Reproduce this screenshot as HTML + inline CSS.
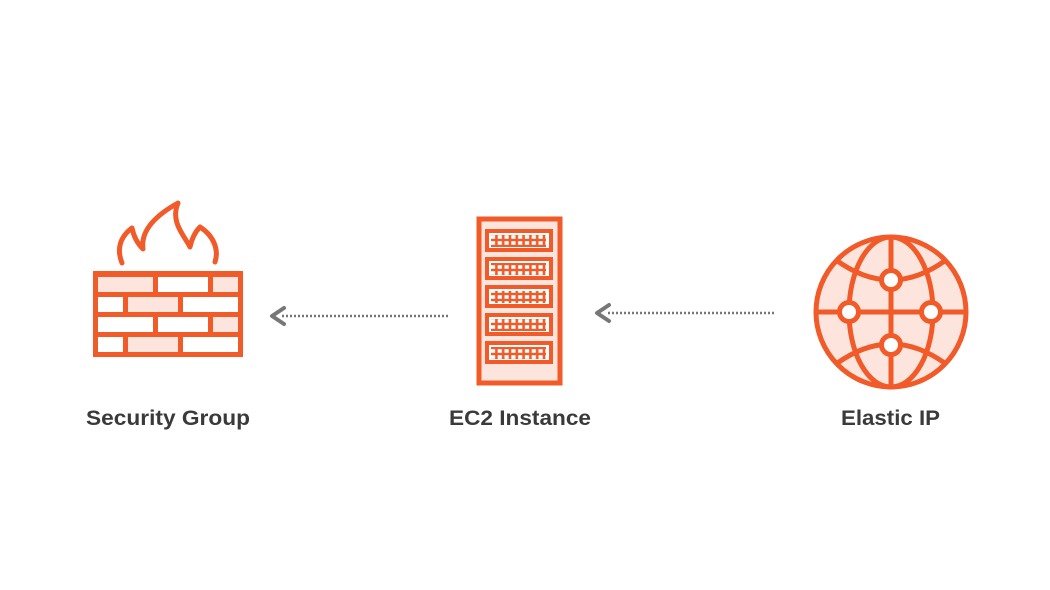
<!DOCTYPE html>
<html><head><meta charset="utf-8"><style>
html,body{margin:0;padding:0;background:#fff;width:1050px;height:590px;overflow:hidden}
svg{display:block}
text{font-family:"Liberation Sans",sans-serif;font-size:21px;fill:#3a3a3a;font-weight:bold}
</style></head><body>
<svg width="1050" height="590" viewBox="0 0 1050 590" xmlns="http://www.w3.org/2000/svg">
<defs>
<pattern id="grid" x="0" y="0" width="6.8" height="6" patternUnits="userSpaceOnUse">
<rect width="6.8" height="6" fill="#f15a29"/>
<rect x="1.3" y="1.2" width="4.2" height="3.6" fill="#fff"/>
</pattern>
</defs>
<!-- Firewall -->
<g stroke="#f15a29" stroke-width="5" fill="none" stroke-linecap="round" stroke-linejoin="round">
<path d="M122 263 C116 248 121 236 132 228 C134 238 138 244 143 249 C140 228 160 213 178 203 C170 222 184 235 190 247 C192 238 195 232 200 227 C214 236 219 250 215 262"/>
</g>
<rect x="93" y="271" width="150" height="86" fill="#f15a29"/>
<g fill="#fde4dc">
<rect x="98" y="277" width="55" height="15"/><rect x="213" y="277" width="25" height="15"/>
<rect x="128" y="297" width="50" height="15"/><rect x="213" y="317" width="25" height="15"/>
<rect x="128" y="337" width="50" height="15"/>
</g>
<g fill="#fff">
<rect x="158" y="277" width="50" height="15"/>
<rect x="98" y="297" width="25" height="15"/><rect x="183" y="297" width="55" height="15"/>
<rect x="98" y="317" width="55" height="15"/><rect x="158" y="317" width="50" height="15"/>
<rect x="98" y="337" width="25" height="15"/><rect x="183" y="337" width="55" height="15"/>
</g>
<!-- Server -->
<rect x="479" y="219" width="81" height="164" fill="#fde4dc" stroke="#f15a29" stroke-width="5"/>
<g>
<rect x="485" y="229" width="68" height="23" fill="#f15a29"/><rect x="489" y="233" width="60" height="15" fill="#fff"/><rect x="491" y="235" width="55" height="12" fill="url(#grid)"/>
<rect x="485" y="257" width="68" height="23" fill="#f15a29"/><rect x="489" y="261" width="60" height="15" fill="#fff"/><rect x="491" y="263" width="55" height="12" fill="url(#grid)"/>
<rect x="485" y="285" width="68" height="23" fill="#f15a29"/><rect x="489" y="289" width="60" height="15" fill="#fff"/><rect x="491" y="291" width="55" height="12" fill="url(#grid)"/>
<rect x="485" y="313" width="68" height="23" fill="#f15a29"/><rect x="489" y="317" width="60" height="15" fill="#fff"/><rect x="491" y="319" width="55" height="12" fill="url(#grid)"/>
<rect x="485" y="341" width="68" height="23" fill="#f15a29"/><rect x="489" y="345" width="60" height="15" fill="#fff"/><rect x="491" y="347" width="55" height="12" fill="url(#grid)"/>
</g>
<!-- Globe -->
<g stroke="#f15a29" stroke-width="5" fill="none">
<circle cx="891" cy="312" r="75" fill="#fde4dc"/>
<line x1="891" y1="237" x2="891" y2="387"/>
<line x1="816" y1="312" x2="966" y2="312"/>
<ellipse cx="891" cy="312" rx="42" ry="75"/>
<path d="M836 260 Q891 300 946 260"/>
<path d="M836 364 Q891 324 946 364"/>
</g>
<g fill="#fff" stroke="#f15a29" stroke-width="5">
<circle cx="891" cy="280" r="9.5"/><circle cx="849" cy="312" r="9.5"/>
<circle cx="931" cy="312" r="9.5"/><circle cx="891" cy="345" r="9.5"/>
</g>
<!-- Arrows -->
<line x1="282" y1="316" x2="450" y2="316" stroke="#777" stroke-width="2.6" stroke-dasharray="2 2"/>
<path d="M284 308 L272 316 L284 324" stroke="#777" stroke-width="4" fill="none" stroke-linecap="round" stroke-linejoin="round"/>
<line x1="608" y1="313" x2="776" y2="313" stroke="#777" stroke-width="2.6" stroke-dasharray="2 2"/>
<path d="M609 305 L597 313 L609 321" stroke="#777" stroke-width="4" fill="none" stroke-linecap="round" stroke-linejoin="round"/>
<!-- Labels -->
<text x="86" y="425" textLength="164" lengthAdjust="spacingAndGlyphs">Security Group</text>
<text x="449" y="425" textLength="142" lengthAdjust="spacingAndGlyphs">EC2 Instance</text>
<text x="841" y="425" textLength="99" lengthAdjust="spacingAndGlyphs">Elastic IP</text>
</svg>
</body></html>
